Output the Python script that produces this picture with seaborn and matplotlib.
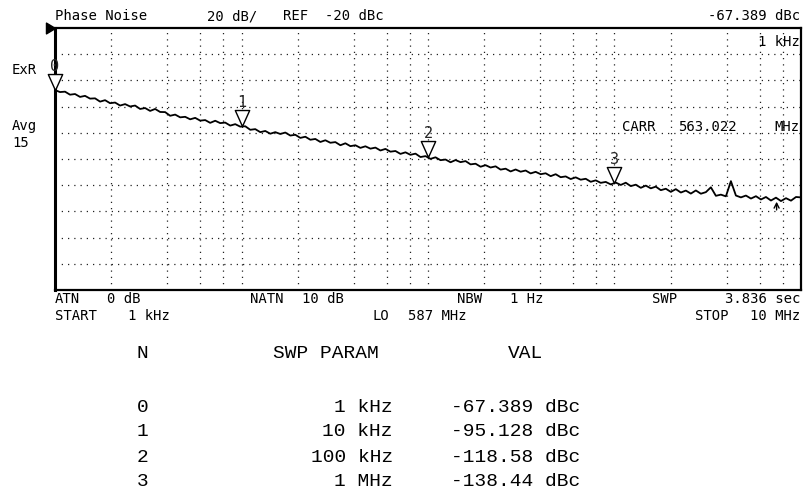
import numpy as np
import matplotlib
matplotlib.use("Agg")
import matplotlib.pyplot as plt
import seaborn as sns
from matplotlib.path import Path

# ---- data ----
# trace in dBc, log sweep from 1 kHz to 10 MHz
trace_db = [
    -67.4, -68.9, -68.6, -70.9, -70.4, -72.6, -71.8, -73.9, -73.7, -76.2,
    -75.1, -77.4, -76.9, -79.2, -78.1, -79.9, -79.2, -81.8, -81.1, -83.3,
    -81.8, -84.1, -84.2, -87.0, -86.1, -88.2, -87.8, -89.7, -88.6, -90.7,
    -90.3, -92.4, -90.8, -92.6, -92.2, -94.5, -93.4, -95.3, -95.0, -97.7,
    -97.2, -99.5, -98.6, -100.7, -99.5, -100.9, -99.8, -102.1, -101.5, -103.9,
    -103.0, -105.3, -104.7, -107.0, -105.7, -107.6, -107.1, -109.5, -108.0, -110.2,
    -109.5, -111.5, -110.3, -112.1, -111.3, -113.5, -112.3, -114.4, -113.9, -116.1,
    -114.9, -116.8, -115.9, -118.5, -117.8, -119.9, -118.7, -120.9, -120.4, -122.5,
    -120.8, -122.4, -121.6, -124.1, -123.6, -125.9, -124.7, -126.5, -125.6, -128.1,
    -127.4, -129.5, -128.0, -129.7, -128.8, -131.0, -129.8, -131.6, -130.9, -133.1,
    -131.6, -133.9, -133.3, -135.3, -134.0, -135.8, -135.1, -137.4, -136.3, -138.2,
    -137.5, -139.4, -138.0, -139.8, -138.1, -140.7, -139.6, -142.0, -140.3, -142.4,
    -141.1, -143.8, -142.7, -145.1, -143.0, -145.6, -144.1, -146.4, -144.0, -146.5,
    -145.3, -141.6, -148.1, -147.2, -148.5, -136.9, -147.9, -149.3, -147.9, -150.2,
    -148.4, -150.9, -149.0, -151.7, -149.5, -152.1, -149.9, -151.8, -149.0, -149.3,
]
start_hz = 1e3
stop_hz = 1e7
trace_hz = np.logspace(np.log10(start_hz), np.log10(stop_hz), len(trace_db))

marker_ids = ["0", "1", "2", "3"]
marker_hz = [1e3, 1e4, 1e5, 1e6]
marker_db = [-67.389, -95.128, -118.58, -138.44]
marker_param = ["1 kHz", "10 kHz", "100 kHz", "1 MHz"]

ref_level = -20
db_per_div = 20
n_div = 10
pointer_hz = 7.4e6

W, H = 804, 497
sns.set_style("white")
plt.rcParams["font.family"] = ["DejaVu Sans Mono", "DejaVu Sans"]

fig = plt.figure(figsize=(W / 100, H / 100), dpi=100)
fig.patch.set_facecolor("white")

# axes box in pixels: left 55, right 801, top 28, bottom 290
L, R, T, B = 55, 801, 28, 290
ax = fig.add_axes([L / W, 1 - B / H, (R - L) / W, (B - T) / H])

ax.set_xscale("log")
ax.set_xlim(start_hz, stop_hz)
ax.set_ylim(ref_level - db_per_div * n_div, ref_level)

# grid: 2,4,6,8,10 per decade, 20 dB per division
xgrid = [m * 10 ** k for k in range(3, 7) for m in (2, 4, 6, 8, 10)][:-1]
ygrid = list(range(ref_level - db_per_div, ref_level - db_per_div * n_div, -db_per_div))
dots = dict(color="#222222", lw=0.9, ls=(0, (1, 4)))
for gx in xgrid:
    ax.axvline(gx, **dots, zorder=1)
for gy in ygrid:
    ax.axhline(gy, **dots, zorder=1)

ax.set_xticks([])
ax.set_yticks([])
ax.minorticks_off()
ax.tick_params(length=0, labelbottom=False, labelleft=False)
for s in ax.spines.values():
    s.set_visible(True)
    s.set_color("black")
    s.set_linewidth(1.6)
ax.spines["left"].set_linewidth(2.2)

# trace
sns.lineplot(x=trace_hz, y=trace_db, ax=ax, color="black", lw=1.3, zorder=3)

# marker triangles, tip on the trace
tri = Path([(-0.45, 1.0), (0.45, 1.0), (0.0, 0.0), (-0.45, 1.0)],
           [Path.MOVETO, Path.LINETO, Path.LINETO, Path.CLOSEPOLY])
ax.plot(marker_hz, marker_db, ls="none", marker=tri, ms=23, mfc="white",
        mec="black", mew=1.0, clip_on=False, zorder=5)
for mid, mx, my in zip(marker_ids, marker_hz, marker_db):
    ax.annotate(mid, (mx, my), xytext=(0, 17), textcoords="offset points",
                ha="center", va="center", fontsize=11, clip_on=False, zorder=6)

# reference level pointer at left
ref_tri = Path([(-1.0, 0.6), (0.0, 0.0), (-1.0, -0.6), (-1.0, 0.6)],
               [Path.MOVETO, Path.LINETO, Path.LINETO, Path.CLOSEPOLY])
ax.plot([start_hz], [ref_level], marker=ref_tri, ms=13, color="black",
        clip_on=False, zorder=6)

# small frequency pointer arrow near the right end
ax.annotate("", xy=(pointer_hz, -150.5), xytext=(pointer_hz, -161),
            arrowprops=dict(arrowstyle="->,head_length=0.35,head_width=0.18",
                            lw=1.0, color="black"), zorder=6)


def px(x, y, s, ha="left", size=10, family=None, **kw):
    fam = family if family else ["DejaVu Sans Mono", "DejaVu Sans"]
    fig.text(x / W, 1 - y / H, s, ha=ha, va="center", fontsize=size,
             family=fam, color="black", **kw)


# screen annotations
px(55, 16, "Phase Noise")
px(207, 16, "20 dB/")
px(283, 16, "REF")
px(325, 16, f"{ref_level} dBc")
px(800, 16, f"{marker_db[0]} dBc", ha="right")
px(800, 42, marker_param[0], ha="right")
px(12, 70, "ExR")
px(12, 126, "Avg")
px(12, 143, "15")
px(622, 127, "CARR")
px(678, 127, "563.022")
px(800, 127, "MHz", ha="right")

px(55, 299, "ATN")
px(107, 299, "0 dB")
px(250, 299, "NATN")
px(302, 299, "10 dB")
px(457, 299, "NBW")
px(510, 299, "1 Hz")
px(652, 299, "SWP")
px(800, 299, "3.836 sec", ha="right")
px(55, 316, "START")
px(128, 316, "1 kHz")
px(373, 316, "LO")
px(408, 316, "587 MHz")
px(695, 316, "STOP")
px(800, 316, "10 MHz", ha="right")

# marker table
tab = ["Liberation Mono", "DejaVu Sans Mono"]
px(137, 353, "N", size=14, family=tab)
px(273, 353, "SWP PARAM", size=14, family=tab)
px(508, 353, "VAL", size=14, family=tab)
row_y = [407, 432, 457, 482]
for ry, mid, prm, val in zip(row_y, marker_ids, marker_param, marker_db):
    px(137, ry, mid, size=14, family=tab)
    px(393, ry, prm, ha="right", size=14, family=tab)
    px(580, ry, f"{val} dBc", ha="right", size=14, family=tab)

fig.savefig("out.png", dpi=100, facecolor="white")
